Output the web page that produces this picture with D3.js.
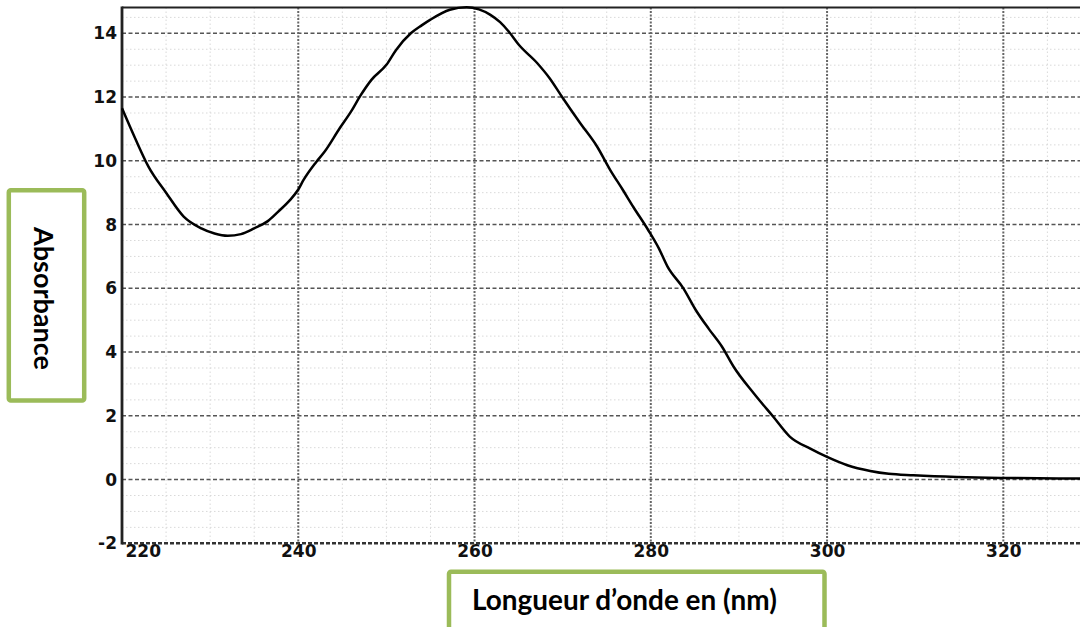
<!DOCTYPE html>
<html>
<head>
<meta charset="utf-8">
<script src="https://cdn.jsdelivr.net/npm/d3@7"></script>
<style>
  html, body { margin: 0; padding: 0; background: #fff; }
  svg { display: block; }
  .tick text { font-family: "DejaVu Sans", sans-serif; font-weight: bold; }
</style>
</head>
<body>
<svg id="chart" width="1080" height="627"></svg>
<script>
// ---- Data ----
const wavelengths = [220, 221.5, 223, 225, 227, 229, 230.5, 232, 233.5, 235, 236.5, 237.7, 239, 240, 240.6, 242, 243, 244.7, 246, 247, 248.3, 250, 251.1, 252.8, 254, 255, 257.2, 259.1, 260.5, 261.8, 262.9, 263.9, 265, 267.1, 268.5, 269.9, 272, 273.9, 275.4, 276.8, 278, 279.7, 280.9, 281.9, 283.7, 285.1, 286.6, 288.1, 289.4, 291.7, 293.9, 295.8, 298.1, 300, 302.3, 304.9, 307, 309.8, 314.7, 319.7, 324, 328.7];
const absorbance  = [11.65, 10.7, 9.82, 9.0, 8.25, 7.88, 7.72, 7.65, 7.7, 7.88, 8.1, 8.4, 8.75, 9.1, 9.4, 9.95, 10.29, 11.02, 11.55, 12.02, 12.54, 13.01, 13.48, 14.01, 14.25, 14.43, 14.74, 14.82, 14.75, 14.58, 14.35, 14.05, 13.65, 13.07, 12.6, 12.02, 11.18, 10.45, 9.71, 9.1, 8.56, 7.83, 7.26, 6.68, 6.0, 5.32, 4.72, 4.16, 3.54, 2.70, 1.97, 1.34, 0.97, 0.71, 0.45, 0.27, 0.18, 0.135, 0.08, 0.05, 0.04, 0.03];
const xTicks = [220, 240, 260, 280, 300, 320];
const yTicks = [-2, 0, 2, 4, 6, 8, 10, 12, 14];
const xMinorTicks = d3.range(220, 330, 5);
const yMinorTicks = d3.range(-2, 14.81, 0.5);
const xDomain = [220, 328.7];
const yDomain = [-2, 14.81];
const yLabel = "Absorbance";
const xLabel = "Longueur d\u2019onde en (nm)";

// ---- Layout ----
const svg = d3.select("#chart");
const L = 122, R = 1080, T = 7.5, B = 543.3;
const x = d3.scaleLinear().domain(xDomain).range([L, R]);
const y = d3.scaleLinear().domain(yDomain).range([B, T]);
const green = "#9BBB59";
const fmt = d => String(d); // plain hyphen for negatives

svg.append("rect").attr("width", 1080).attr("height", 627).attr("fill", "#fff");

const grid = svg.append("g");
// minor grid
grid.selectAll(".vmin").data(xMinorTicks.filter(d => !xTicks.includes(d) && d > 220))
  .join("line")
  .attr("x1", d => x(d)).attr("x2", d => x(d)).attr("y1", T).attr("y2", B)
  .attr("stroke", "#d9d9d9").attr("stroke-width", 1).attr("stroke-dasharray", "1.5,2.5");
grid.selectAll(".hmin").data(yMinorTicks.filter(d => Math.abs(d % 2) > 0.01))
  .join("line")
  .attr("x1", L).attr("x2", R).attr("y1", d => y(d)).attr("y2", d => y(d))
  .attr("stroke", "#d9d9d9").attr("stroke-width", 1).attr("stroke-dasharray", "1.5,2.5");
// major grid
grid.selectAll(".hmaj").data(yTicks.filter(d => d > -2))
  .join("line")
  .attr("x1", L).attr("x2", R).attr("y1", d => y(d)).attr("y2", d => y(d))
  .attr("stroke", "#555").attr("stroke-width", 1.6).attr("stroke-dasharray", "4,2.5");
grid.selectAll(".vmaj").data(xTicks.filter(d => d > 220))
  .join("line")
  .attr("x1", d => x(d)).attr("x2", d => x(d)).attr("y1", T).attr("y2", B)
  .attr("stroke", "#666").attr("stroke-width", 2).attr("stroke-dasharray", "2,1.5");

// frame
svg.append("line").attr("x1", L).attr("x2", R).attr("y1", T).attr("y2", T)
  .attr("stroke", "#222").attr("stroke-width", 2);
svg.append("line").attr("x1", L).attr("x2", R).attr("y1", B).attr("y2", B)
  .attr("stroke", "#333").attr("stroke-width", 2.6).attr("stroke-dasharray", "4,2");
svg.append("line").attr("x1", L).attr("x2", L).attr("y1", T - 1).attr("y2", B + 1.3)
  .attr("stroke", "#222").attr("stroke-width", 2.8);

// axes (labels only)
const yAxis = svg.append("g").attr("transform", `translate(${L},0)`)
  .call(d3.axisLeft(y).tickValues(yTicks).tickSize(0).tickPadding(5).tickFormat(fmt));
yAxis.select(".domain").remove();
yAxis.attr("font-size", null).attr("font-family", null);
yAxis.selectAll("text").attr("font-size", 17).attr("fill", "#111");

const xAxis = svg.append("g").attr("transform", `translate(0,${B})`)
  .call(d3.axisBottom(x).tickValues(xTicks).tickSize(0).tickPadding(2).tickFormat(fmt));
xAxis.select(".domain").remove();
xAxis.attr("font-size", null).attr("font-family", null);
xAxis.selectAll("text").attr("font-size", 17).attr("fill", "#111");
xAxis.selectAll(".tick").filter(d => d === 220).select("text")
  .attr("text-anchor", "start").attr("x", 3);

// curve
const pts = wavelengths.map((w, i) => [w, absorbance[i]]);
svg.append("path").datum(pts)
  .attr("fill", "none").attr("stroke", "#000").attr("stroke-width", 2.5)
  .attr("stroke-linejoin", "round")
  .attr("d", d3.line().x(d => x(d[0])).y(d => y(d[1])).curve(d3.curveMonotoneX));

// label boxes
svg.append("rect").attr("x", 8.8).attr("y", 190.3).attr("width", 75.4).attr("height", 210.2)
  .attr("fill", "#fff").attr("stroke", green).attr("stroke-width", 4.5).attr("rx", 2);
const yl = svg.append("text").attr("transform", "translate(34,298.5) rotate(90)")
  .attr("text-anchor", "middle").attr("font-family", "Lato").attr("font-weight", "bold")
  .attr("font-size", 26).attr("fill", "#000").text(yLabel);
let w1 = yl.node().getComputedTextLength();
yl.attr("font-size", 26 * 143 / w1);

svg.append("rect").attr("x", 449).attr("y", 571.7).attr("width", 375.5).attr("height", 100)
  .attr("fill", "#fff").attr("stroke", green).attr("stroke-width", 4.5).attr("rx", 2);
const xl = svg.append("text").attr("x", 472).attr("y", 609.5)
  .attr("font-family", "Lato").attr("font-weight", "bold")
  .attr("font-size", 26).attr("fill", "#000").text(xLabel);
let w2 = xl.node().getComputedTextLength();
xl.attr("font-size", 26 * 305 / w2);
</script>
</body>
</html>
